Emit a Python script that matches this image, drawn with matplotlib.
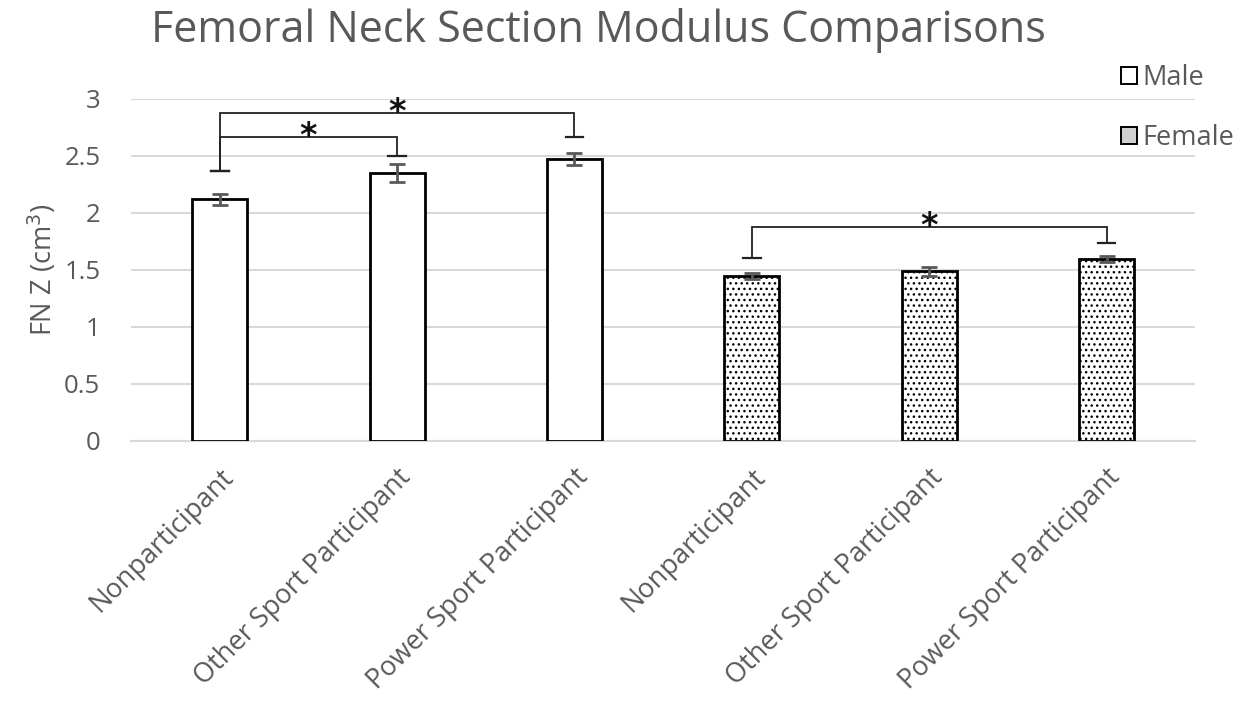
import numpy as np
import matplotlib.pyplot as plt
from matplotlib.patches import Patch

plt.rcParams['font.family'] = ['Open Sans', 'DejaVu Sans']
plt.rcParams['hatch.linewidth'] = 1.0

categories = ["Nonparticipant", "Other Sport Participant", "Power Sport Participant",
              "Nonparticipant", "Other Sport Participant", "Power Sport Participant"]
male_vals = [2.12, 2.35, 2.475]
male_err = [0.05, 0.08, 0.05]
female_vals = [1.445, 1.49, 1.595]
female_err = [0.025, 0.04, 0.025]
# significance brackets: (left idx, right idx, bar height, left tick, right tick)
brackets = [(0, 1, 2.665, 2.37, 2.50),
            (0, 2, 2.875, 2.37, 2.665),
            (3, 5, 1.875, 1.605, 1.735)]

grey = "#595959"
fig = plt.figure(figsize=(12.36, 7.02), dpi=100)
ax = fig.add_axes([0.106, 0.3718, 0.861, 0.4872])

x = np.arange(len(categories))
w = 0.31
ax.bar(x[:3], male_vals, w, color="white", edgecolor="black", linewidth=2, zorder=3)
ax.bar(x[3:], female_vals, w, color="white", edgecolor="black", linewidth=2,
       hatch="...", zorder=3)
ax.errorbar(x[:3], male_vals, yerr=male_err, fmt="none", ecolor=grey,
            elinewidth=2, capsize=6, capthick=2, zorder=4)
ax.errorbar(x[3:], female_vals, yerr=female_err, fmt="none", ecolor=grey,
            elinewidth=2, capsize=6, capthick=2, zorder=4)

tw = 0.05
for i, j, top, lt, rt in brackets:
    ax.plot([x[i], x[i], x[j], x[j]], [lt, top, top, rt], color="#222222", lw=1.3,
            zorder=5, solid_joinstyle="miter")
    ax.plot([x[i] - tw, x[i] + tw], [lt, lt], color="#222222", lw=1.6, zorder=5)
    ax.plot([x[j] - tw, x[j] + tw], [rt, rt], color="#222222", lw=1.6, zorder=5)
    ax.text((x[i] + x[j]) / 2, top + 0.01, "*", ha="center", va="center",
            fontsize=24, fontweight="bold", color="#111111", zorder=6,
            family="DejaVu Sans")

ax.set_xlim(-0.5, len(categories) - 0.5)
ax.set_ylim(0, 3)
ax.set_yticks(np.arange(0, 3.01, 0.5))
ax.set_yticklabels(["0", "0.5", "1", "1.5", "2", "2.5", "3"])
ax.yaxis.grid(True, color="#d9d9d9", lw=1.5, zorder=0)
ax.set_axisbelow(True)
for s in ["left", "right", "top"]:
    ax.spines[s].set_visible(False)
ax.spines["bottom"].set_color("#d9d9d9")
ax.spines["bottom"].set_linewidth(1.5)
ax.tick_params(axis="y", length=0, labelsize=18.5, labelcolor=grey, pad=22)
ax.set_xticks(x)
ax.set_xticklabels(categories, rotation=45, ha="right", rotation_mode="anchor")
ax.tick_params(axis="x", length=0, labelsize=19.5, labelcolor=grey, pad=16)
ax.set_ylabel("FN Z (cm$^3$)", fontsize=19.5, color=grey, labelpad=4)

fig.text(0.484, 0.957, "Femoral Neck Section Modulus Comparisons", ha="center",
         va="center", fontsize=31, color=grey)

handles = [Patch(facecolor="white", edgecolor="black", linewidth=1.4),
           Patch(facecolor="#d0d0d0", edgecolor="black", linewidth=1.4)]
fig.legend(handles, ["Male", "Female"], loc="upper left",
           bbox_to_anchor=(0.907, 0.909), frameon=False, fontsize=19.5,
           labelcolor=grey, handlelength=0.6, handleheight=0.6,
           handletextpad=0.2, labelspacing=1.2, borderaxespad=0, borderpad=0)

fig.savefig("out.png", dpi=100)
